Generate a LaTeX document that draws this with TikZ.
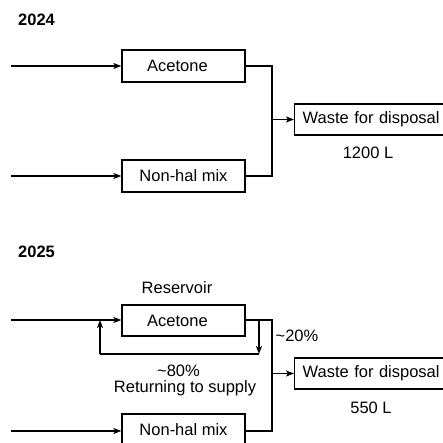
\documentclass[tikz,border=0pt]{standalone}
\usepackage{fontspec}
\setmainfont{Liberation Sans}
\usetikzlibrary{arrows.meta}
\begin{document}
\begin{tikzpicture}[x=1pt,y=1pt,
  txt/.style={font=\fontsize{16.5}{18}\selectfont, inner sep=0pt},
  box/.style={draw, line width=1.3pt, minimum width=123pt, minimum height=32pt, inner sep=0pt, font=\fontsize{16.5}{18}\selectfont},
  wbox/.style={draw, line width=1.3pt, minimum width=156pt, minimum height=31pt, inner xsep=8pt, inner ysep=0pt, anchor=west, align=left, text width=140pt, font=\fontsize{16.5}{18}\selectfont},
  ln/.style={line width=1.3pt},
  arr/.style={line width=1.3pt, -{Stealth[length=8pt,width=6pt,inset=2pt]}}]
\useasboundingbox (0,-443) rectangle (443,0);
\fill[white] (0,-443) rectangle (443,0);
% 2024
\node[txt, font=\fontsize{16.5}{18}\selectfont\bfseries, anchor=west] (y1) at (18,-20) {2024};
\node[box] (a1) at (183.5,-66) {\hspace*{-12pt}Acetone};
\node[box] (n1) at (183.5,-176) {Non-hal mix};
\node[wbox] (w1) at (294,-119.5) {Waste for disposal};
\node[txt] (v1) at (368,-153) {1200 L};
\coordinate (s1) at (11,-66);
\coordinate (s2) at (11,-176);
\coordinate (jt1) at (272,-66);
\coordinate (jb1) at (272,-176);
\draw[arr] (s1) -- (a1);
\draw[arr] (s2) -- (n1);
\draw[ln] (a1.east) -- (jt1) -- (jb1) -- (n1.east);
\draw[arr] (jt1 |- w1.west) -- (w1.west);
% 2025
\node[txt, font=\fontsize{16.5}{18}\selectfont\bfseries, anchor=west] (y2) at (18,-252) {2025};
\node[txt] (r2) at (177,-288) {Reservoir};
\node[box, minimum height=31pt] (a2) at (183.5,-320.5) {\hspace*{-12pt}Acetone};
\node[box] (n2) at (183.5,-430) {Non-hal mix};
\node[wbox] (w2) at (294,-373.5) {Waste for disposal};
\node[txt] (v2) at (371,-408) {550 L};
\node[txt] (p20) at (297,-336) {\textasciitilde 20\%};
\node[txt] (p80) at (178.5,-371) {\textasciitilde 80\%};
\node[txt] (ret) at (185,-388) {Returning to supply};
\coordinate (s3) at (11,-320);
\coordinate (s4) at (11,-431);
\coordinate (jt2) at (272,-320);
\coordinate (jb2) at (272,-431);
\draw[arr] (s3) -- (a2.west |- s3);
\draw[arr] (s4) -- (n2.west |- s4);
\draw[ln] (a2.east |- jt2) -- (jt2) -- (jb2) -- (n2.east |- jb2);
\draw[arr] (jt2 |- w2.west) -- (w2.west);
\coordinate (d1) at (259,-320);
\coordinate (d2) at (259,-354);
\coordinate (u2) at (100,-354);
\coordinate (u1) at (100,-320);
\draw[arr] (d1) -- (d2);
\draw[ln] (d2) -- (u2);
\draw[arr] (u2) -- (u1);
\end{tikzpicture}
\end{document}
